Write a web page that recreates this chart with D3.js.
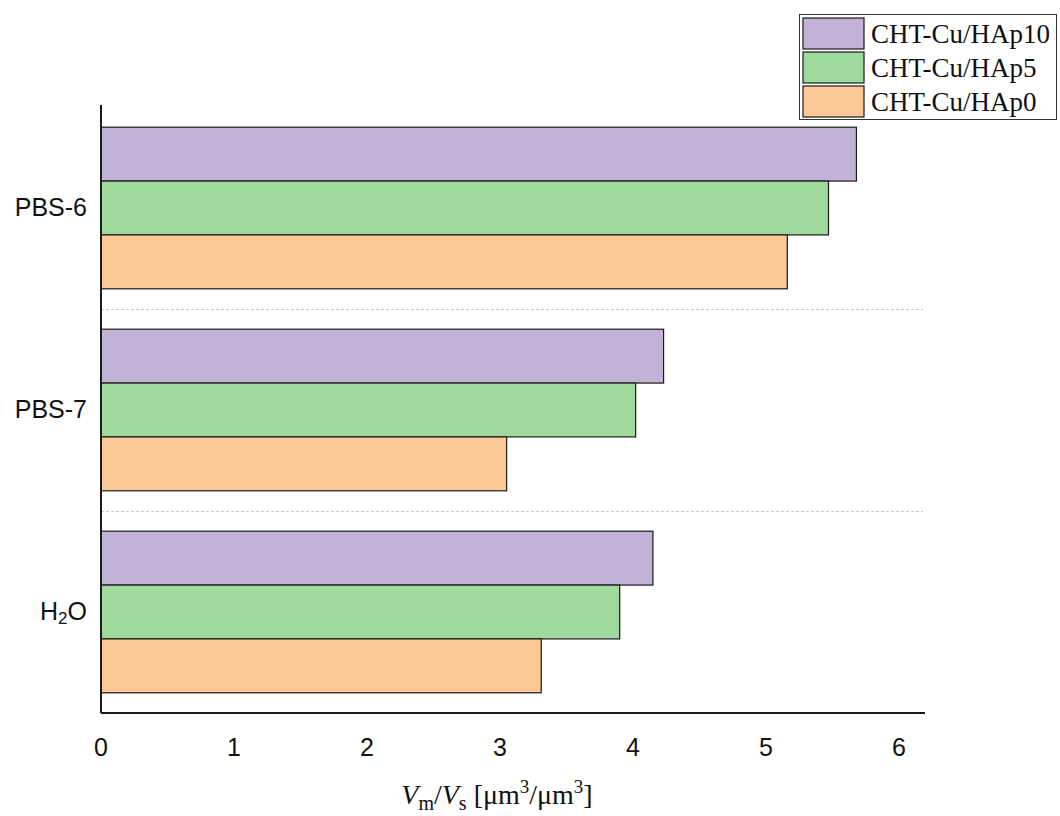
<!DOCTYPE html>
<html><head><meta charset="utf-8">
<script src="https://cdn.jsdelivr.net/npm/d3@7"></script>
<style>body{margin:0;background:#fff}</style>
</head><body>
<svg id="c" width="1060" height="816"></svg>
<script>
const categories = ["PBS-6", "PBS-7", "H2O"];
const seriesNames = ["CHT-Cu/HAp10", "CHT-Cu/HAp5", "CHT-Cu/HAp0"];
const hap10 = [5.68, 4.23, 4.15];
const hap5 = [5.47, 4.02, 3.90];
const hap0 = [5.16, 3.05, 3.31];
const xTicks = [0, 1, 2, 3, 4, 5, 6];
const colors = ["#c2b2d6", "#a0d99e", "#fbc896"];

(function () {
const series = [hap10, hap5, hap0];
const svg = d3.select("#c");
const pLeft = 101, pRight = 925, pTop = 107, pBottom = 713;

const x = d3.scaleLinear().domain([0, 6]).range([101, 899]);
const y0 = d3.scaleBand().domain(categories).range([pTop, pBottom]).paddingInner(0.2).paddingOuter(0.1);
const y1 = d3.scaleBand().domain(d3.range(series.length)).range([0, y0.bandwidth()]);

// separators
categories.slice(0, -1).forEach((c, i) => {
  const ym = Math.round((y0(c) + y0.bandwidth() + y0(categories[i + 1])) / 2) + 0.5;
  svg.append("line").attr("x1", pLeft).attr("x2", 923).attr("y1", ym).attr("y2", ym)
    .attr("stroke", "#c8c8c8").attr("stroke-width", 1).attr("stroke-dasharray", "3,2");
});

categories.forEach((c, ci) => {
  series.forEach((s, si) => {
    svg.append("rect")
      .attr("x", x(0)).attr("y", y0(c) + y1(si))
      .attr("width", x(s[ci]) - x(0)).attr("height", y1.bandwidth())
      .attr("fill", colors[si]).attr("stroke", "#1a1a1a").attr("stroke-width", 1.2);
  });
});

// axes lines
svg.append("line").attr("x1", pLeft).attr("x2", pLeft).attr("y1", 105).attr("y2", pBottom)
  .attr("stroke", "#1a1a1a").attr("stroke-width", 2);
svg.append("line").attr("x1", pLeft).attr("x2", pRight).attr("y1", pBottom).attr("y2", pBottom)
  .attr("stroke", "#1a1a1a").attr("stroke-width", 2);

// x tick labels
svg.selectAll(".xt").data(xTicks).enter().append("text")
  .attr("x", d => x(d)).attr("y", 756).attr("text-anchor", "middle")
  .attr("font-family", "Liberation Sans, Arial, sans-serif").attr("font-size", 25).attr("fill", "#111")
  .text(d => d);

// y labels
categories.forEach(c => {
  const t = svg.append("text").attr("x", 87).attr("y", y0(c) + y0.bandwidth() / 2 + 8)
    .attr("text-anchor", "end").attr("font-family", "Liberation Sans, Arial, sans-serif")
    .attr("font-size", 25).attr("fill", "#111");
  if (c === "H2O") {
    t.append("tspan").text("H");
    t.append("tspan").text("2").attr("font-size", 17).attr("dy", 4);
    t.append("tspan").text("O").attr("dy", -4);
  } else t.text(c);
});

// x axis title
const xt = svg.append("text").attr("x", 497).attr("y", 804).attr("text-anchor", "middle")
  .attr("font-family", "Liberation Serif, Times New Roman, serif").attr("font-size", 28).attr("fill", "#111");
xt.append("tspan").text("V").attr("font-style", "italic");
xt.append("tspan").text("m").attr("font-size", 20).attr("dy", 6);
xt.append("tspan").text("/").attr("dy", -6);
xt.append("tspan").text("V").attr("font-style", "italic");
xt.append("tspan").text("s").attr("font-size", 20).attr("dy", 6);
xt.append("tspan").text(" [μm").attr("dy", -6);
xt.append("tspan").text("3").attr("font-size", 19).attr("dy", -11);
xt.append("tspan").text("/μm").attr("dy", 11);
xt.append("tspan").text("3").attr("font-size", 19).attr("dy", -11);
xt.append("tspan").text("]").attr("dy", 11);

// legend
const lg = svg.append("g");
lg.append("rect").attr("x", 799.5).attr("y", 14.5).attr("width", 257).attr("height", 105)
  .attr("fill", "#fff").attr("stroke", "#333").attr("stroke-width", 1);
seriesNames.forEach((n, i) => {
  const yy = 18 + i * 34;
  lg.append("rect").attr("x", 803).attr("y", yy).attr("width", 61).attr("height", 31)
    .attr("fill", colors[i]).attr("stroke", "#1a1a1a").attr("stroke-width", 1.2);
  lg.append("text").attr("x", 871).attr("y", yy + 25)
    .attr("font-family", "Liberation Serif, Times New Roman, serif").attr("font-size", 27).attr("fill", "#111")
    .text(n);
});
})();
</script>
</body></html>
